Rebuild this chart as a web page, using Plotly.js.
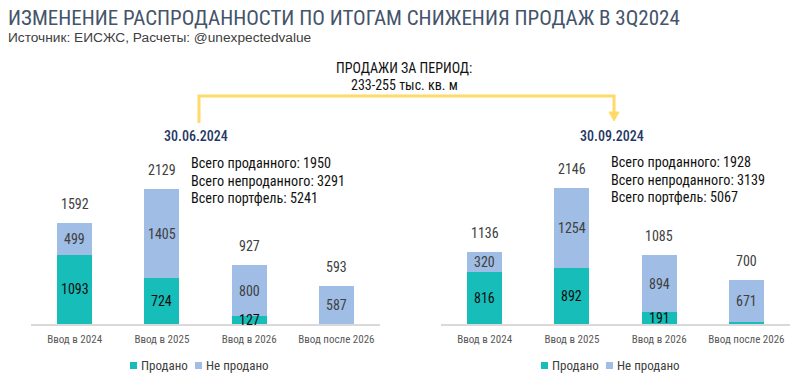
<!DOCTYPE html>
<html><head><meta charset="utf-8">
<script src="https://cdn.plot.ly/plotly-3.0.1.min.js"></script>
<style>html,body{margin:0;padding:0;background:#fff}#c{width:800px;height:388px}</style>
</head><body><div id="c"></div>
<script>
const categories = ["Ввод в 2024", "Ввод в 2025", "Ввод в 2026", "Ввод после 2026"];
const soldJun = [1093, 724, 127, 6];
const unsoldJun = [499, 1405, 800, 587];
const soldSep = [816, 892, 191, 29];
const unsoldSep = [320, 1254, 894, 671];
const totalsJun = ["Всего проданного: 1950", "Всего непроданного: 3291", "Всего портфель: 5241"];
const totalsSep = ["Всего проданного: 1928", "Всего непроданного: 3139", "Всего портфель: 5067"];
const dates = ["30.06.2024", "30.09.2024"];
const seriesNames = ["Продано", "Не продано"];

const W = 800, H = 388;
const COND = "Roboto Condensed, Liberation Sans Narrow, DejaVu Sans Condensed, Roboto, sans-serif";
const SOLD = "#17BDB9", UNSOLD = "#9FBDE5";
const px = x => x / W, py = y => 1 - y / H;

const traces = [
  {type:"bar", x:categories, y:soldJun, name:seriesNames[0], marker:{color:SOLD}, xaxis:"x", yaxis:"y", hoverinfo:"skip"},
  {type:"bar", x:categories, y:unsoldJun, name:seriesNames[1], marker:{color:UNSOLD}, xaxis:"x", yaxis:"y", hoverinfo:"skip"},
  {type:"bar", x:categories, y:soldSep, name:seriesNames[0], marker:{color:SOLD}, xaxis:"x2", yaxis:"y2", hoverinfo:"skip"},
  {type:"bar", x:categories, y:unsoldSep, name:seriesNames[1], marker:{color:UNSOLD}, xaxis:"x2", yaxis:"y2", hoverinfo:"skip"}
];

const ann = [];
function addLabels(sold, unsold, xr, yr) {
  categories.forEach((c, i) => {
    const tot = sold[i] + unsold[i];
    ann.push({xref:xr, yref:yr, x:c, y:tot, text:String(tot), showarrow:false, yanchor:"bottom", yshift:9,
      font:{family:COND, size:14, color:"#404040"}});
    if (sold[i] >= 50) ann.push({xref:xr, yref:yr, x:c, y:sold[i]/2, text:String(sold[i]), showarrow:false,
      font:{family:COND, size:14, color:"#0d0d0d"}});
    ann.push({xref:xr, yref:yr, x:c, y:sold[i] + unsold[i]/2, text:String(unsold[i]), showarrow:false,
      font:{family:COND, size:14, color:"#404040"}});
  });
}
addLabels(soldJun, unsoldJun, "x", "y");
addLabels(soldSep, unsoldSep, "x2", "y2");

const P = {xref:"paper", yref:"paper", showarrow:false, yanchor:"middle"};
ann.push(Object.assign({}, P, {x:px(6), y:py(18), xanchor:"left",
  text:"ИЗМЕНЕНИЕ РАСПРОДАННОСТИ ПО ИТОГАМ СНИЖЕНИЯ ПРОДАЖ В 3Q2024", font:{family:COND, size:21, color:"#44546A"}}));
ann.push(Object.assign({}, P, {x:px(6), y:py(37), xanchor:"left",
  text:"Источник: ЕИСЖС, Расчеты: @unexpectedvalue", font:{family:"Liberation Sans, Arial, sans-serif", size:13.7, color:"#404040"}}));
ann.push(Object.assign({}, P, {x:px(404), y:py(68), xanchor:"center",
  text:"ПРОДАЖИ ЗА ПЕРИОД:", font:{family:COND, size:14, color:"#111"}}));
ann.push(Object.assign({}, P, {x:px(404), y:py(85), xanchor:"center",
  text:"233-255 тыс. кв. м", font:{family:COND, size:14, color:"#111"}}));
ann.push(Object.assign({}, P, {x:px(196), y:py(136), xanchor:"center",
  text:dates[0], font:{family:COND, size:14, color:"#1F3864", weight:500}}));
ann.push(Object.assign({}, P, {x:px(612), y:py(136), xanchor:"center",
  text:dates[1], font:{family:COND, size:14, color:"#1F3864", weight:500}}));
totalsJun.forEach((t, i) => ann.push(Object.assign({}, P, {x:px(189), y:py(163 + 17.5*i), xanchor:"left",
  text:t, font:{family:COND, size:14.2, color:"#111"}})));
totalsSep.forEach((t, i) => ann.push(Object.assign({}, P, {x:px(609), y:py(162 + 17.5*i), xanchor:"left",
  text:t, font:{family:COND, size:14.2, color:"#111"}})));

const Y = "#FDDA6A";
const shapes = [
  {type:"path", xref:"paper", yref:"paper",
   path:`M ${px(199)} ${py(123)} L ${px(199)} ${py(96)} L ${px(614)} ${py(96)} L ${px(614)} ${py(113)}`,
   line:{color:Y, width:3}},
  {type:"path", xref:"paper", yref:"paper",
   path:`M ${px(609)} ${py(112)} L ${px(619)} ${py(112)} L ${px(614)} ${py(121)} Z`,
   fillcolor:Y, line:{color:Y, width:1}}
];

// custom compact legends (one under each panel)
function addLegend(startX) {
  const cols = [SOLD, UNSOLD];
  const offs = [0, 65];
  seriesNames.forEach((n, i) => {
    const x0 = startX + offs[i];
    shapes.push({type:"rect", xref:"paper", yref:"paper", x0:px(x0), x1:px(x0 + 7), y0:py(369), y1:py(362),
      fillcolor:cols[i], line:{width:0}});
    ann.push(Object.assign({}, P, {x:px(x0 + 9), y:py(365.5), xanchor:"left", text:n,
      font:{family:COND, size:13, color:"#404040"}}));
  });
}
addLegend(130);
addLegend(541);

const yb = py(324), yt = py(324 - 190);
const xax = {type:"category", showline:true, linecolor:"#D9D9D9", linewidth:2, showgrid:false, zeroline:false, ticks:"",
  tickfont:{family:COND, size:11, color:"#595959"}, ticklabelstandoff:4, fixedrange:true};
const yax = {range:[0, 3000], visible:false, showgrid:false, zeroline:false, fixedrange:true};

const layout = {
  width:W, height:H, margin:{l:0, r:0, t:0, b:0}, paper_bgcolor:"#fff", plot_bgcolor:"#fff",
  barmode:"stack", bargap:0.6, showlegend:false,
  xaxis:Object.assign({}, xax, {domain:[px(31), px(380)], anchor:"y"}),
  yaxis:Object.assign({}, yax, {domain:[yb, yt], anchor:"x"}),
  xaxis2:Object.assign({}, xax, {domain:[px(441), px(790)], anchor:"y2"}),
  yaxis2:Object.assign({}, yax, {domain:[yb, yt], anchor:"x2"}),
  annotations:ann, shapes:shapes
};
Plotly.newPlot("c", traces, layout, {displayModeBar:false, staticPlot:true});
</script></body></html>
